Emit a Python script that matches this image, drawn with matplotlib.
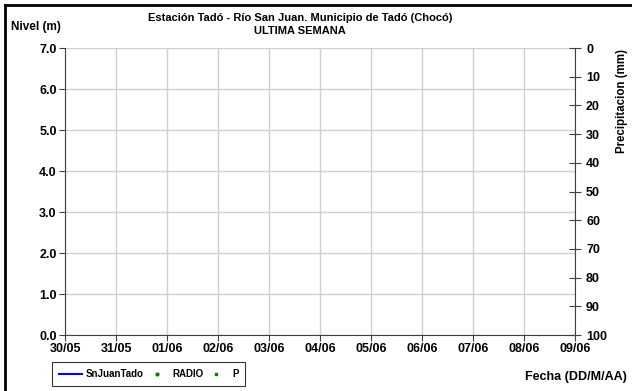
import matplotlib
matplotlib.use("Agg")
import matplotlib.pyplot as plt
from matplotlib.lines import Line2D

plt.rcParams['font.family'] = ['Liberation Sans', 'DejaVu Sans']
plt.rcParams['font.weight'] = 'bold'

# data (chart is empty for this week)
fechas = ['30/05', '31/05', '01/06', '02/06', '03/06', '04/06',
          '05/06', '06/06', '07/06', '08/06', '09/06']
nivel_snjuan = []      # SnJuanTado
nivel_radio = []       # RADIO
precip = []            # P
nivel_ticks = [0.0, 1.0, 2.0, 3.0, 4.0, 5.0, 6.0, 7.0]
precip_ticks = [0, 10, 20, 30, 40, 50, 60, 70, 80, 90, 100]

fig = plt.figure(figsize=(6.32, 3.91), dpi=100)
ax = fig.add_axes([0.1029, 0.1432, 0.8069, 0.7340])

x = list(range(len(fechas)))
l1, = ax.plot([], nivel_snjuan, color='#0000ff', lw=1.5, label='SnJuanTado')
l2, = ax.plot([], nivel_radio, ls='none', marker='o', ms=2, color='#008000', label='RADIO')

ax.set_xlim(0, len(fechas) - 1)
ax.set_ylim(0, 7)
ax.set_xticks(x)
ax.set_xticklabels(fechas)
ax.set_yticks(nivel_ticks)
ax.set_yticklabels(['%.1f' % v for v in nivel_ticks])
ax.grid(True, color='#cfcfcf', lw=1)
ax.set_axisbelow(True)
for s in ['top', 'right']:
    ax.spines[s].set_visible(False)
for s in ['left', 'bottom']:
    ax.spines[s].set_color('#404040')
ax.tick_params(axis='both', labelsize=9, colors='black', length=4, width=0.8,
               direction='out', pad=2)
ax.tick_params(axis='both', color='#404040')

ax2 = ax.twinx()
p3, = ax2.plot([], precip, ls='none', marker='s', ms=2, color='#008000', label='P')
ax2.set_ylim(100, 0)
ax2.set_yticks(precip_ticks)
ax2.set_yticklabels([str(v) for v in precip_ticks])
for s in ['top', 'left', 'bottom']:
    ax2.spines[s].set_visible(False)
ax2.spines['right'].set_color('#404040')
ax2.tick_params(axis='y', labelsize=9, direction='inout', length=8, width=0.8,
                color='#404040', pad=4)
ax2.set_ylabel('Precipitacion (mm)', fontsize=8.3, fontweight='bold', labelpad=0)
ax2.yaxis.set_label_coords(1.08, 0.815)

fig.text(0.475, 0.955, 'Estación Tadó - Río San Juan. Municipio de Tadó (Chocó)',
         ha='center', va='center', fontsize=8, fontweight='bold')
fig.text(0.475, 0.920, 'ULTIMA SEMANA', ha='center', va='center',
         fontsize=8, fontweight='bold')
fig.text(0.018, 0.932, 'Nivel (m)', ha='left', va='center', fontsize=8.5,
         fontweight='bold')
fig.text(0.992, 0.035, 'Fecha (DD/M/AA)', ha='right', va='center', fontsize=9,
         fontweight='bold')

leg = fig.legend(handles=[l1, l2, p3], loc='lower left',
                 bbox_to_anchor=(0.082, 0.013, 0.306, 0.059), mode='expand',
                 ncol=3, fontsize=7, frameon=True, fancybox=False,
                 handlelength=2.4, handletextpad=0.4, borderpad=0.7,
                 borderaxespad=0, columnspacing=1.0)
leg.get_frame().set_edgecolor('black')
leg.get_frame().set_linewidth(0.8)
for t in leg.get_texts():
    t.set_fontweight('bold')

# outer frame lines (top and left)
fig.add_artist(Line2D([0.008, 1.0], [0.988, 0.988], color='black', lw=2,
                      transform=fig.transFigure))
fig.add_artist(Line2D([0.008, 0.008], [0.0, 0.988], color='black', lw=2,
                      transform=fig.transFigure))

fig.savefig('out.png', dpi=100)
